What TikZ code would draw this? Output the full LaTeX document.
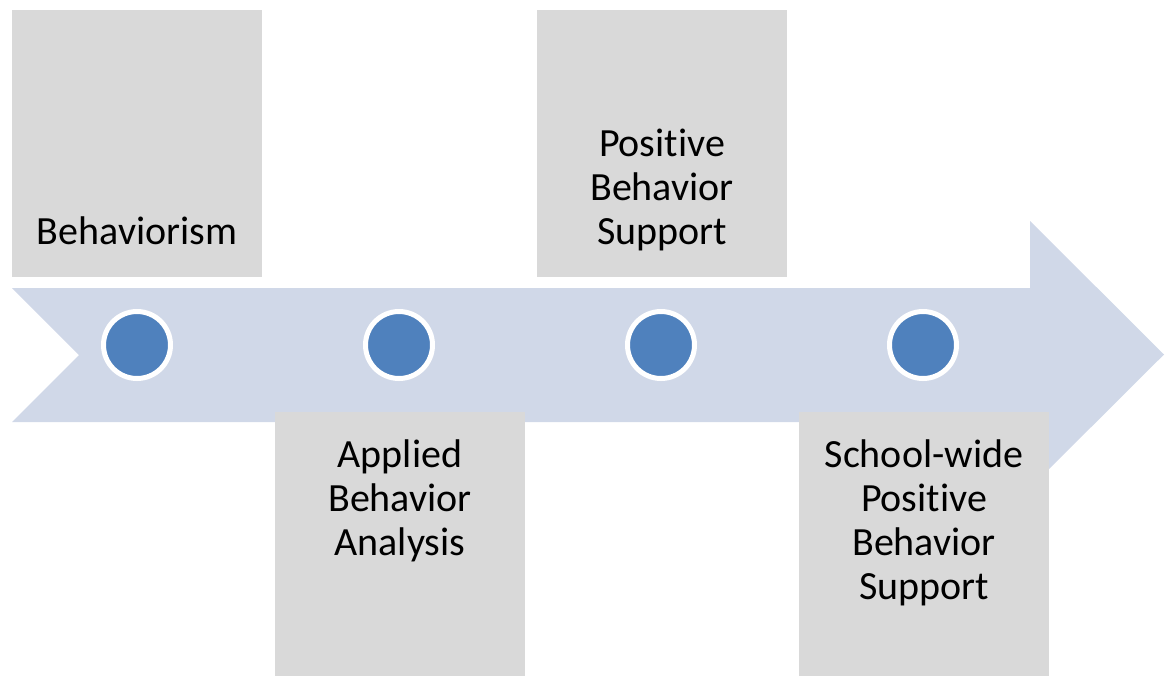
\documentclass[tikz,border=0pt]{standalone}
\usepackage{fontspec}
\setmainfont[Ligatures=NoCommon]{Carlito}
\definecolor{bandblue}{HTML}{D0D8E8}
\definecolor{boxgrey}{HTML}{D9D9D9}
\definecolor{dotblue}{HTML}{4F81BD}
\begin{document}
\begin{tikzpicture}[x=0.5pt,y=-0.5pt,
    box/.style={fill=boxgrey,minimum width=125pt,inner sep=0pt},
    dot/.style={circle,fill=dotblue,draw=white,line width=2.5pt,minimum size=33.5pt,inner sep=0pt},
    lbl/.style={align=center,inner sep=0pt,font=\fontsize{20}{22}\selectfont}]
        \useasboundingbox (0,0) rectangle (1173,676);
        %% Band arrow
        \fill[bandblue] (12,288) -- (1030,288) -- (1030,221) -- (1164,354.5) -- (1030,488)
            -- (1030,422) -- (12,422) -- (79,355) -- cycle;
        %% Boxes
        \node[box,minimum height=133.5pt] (behav) at (137,143.5) {};
        \node[box,minimum height=132pt] (aba) at (400,544) {};
        \node[box,minimum height=133.5pt] (pbs) at (662,143.5) {};
        \node[box,minimum height=132pt] (swpbs) at (924,544) {};
        %% Labels
        \node[lbl,anchor=south] (behavT) at ([yshift=9.5pt]behav.south) {Behaviorism\strut};
        \node[lbl,anchor=north] (abaT) at ([yshift=-12.5pt]aba.north) {\strut Applied\\Behavior\\Analysis};
        \node[lbl,anchor=south] (pbsT) at ([yshift=9.5pt]pbs.south) {Positive\\Behavior\\Support\strut};
        \node[lbl,anchor=north] (swpbsT) at ([yshift=-12.5pt]swpbs.north) {\strut School-wide\\Positive\\Behavior\\Support};
        %% Dots
        \node[dot] (d1) at (137,345) {};
        \node[dot] (d2) at (399,345) {};
        \node[dot] (d3) at (661,345) {};
        \node[dot] (d4) at (923,345) {};
    \end{tikzpicture}
\end{document}
